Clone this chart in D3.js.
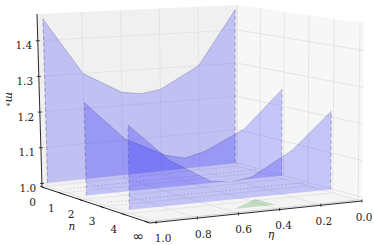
<!DOCTYPE html>
<html><head><meta charset="utf-8">
<script src="https://cdn.jsdelivr.net/npm/d3@7"></script>
<style>html,body{margin:0;padding:0;background:#fff}svg{display:block}</style></head>
<body><svg id="c" width="374" height="245"></svg>
<script>
const etaValues=[1,0.8,0.6,0.5,0.4,0.2,0.01];
const seriesN0=[1.46,1.30,1.238,1.23,1.238,1.30,1.46];
const seriesN2=[1.25,1.144,1.09,1.077,1.09,1.144,1.25];
const seriesN4=[1.218,1.118,1.054,1.047,1.054,1.118,1.218];
const seriesN5=[1,1,1,1.02,1,1,1];
const flatN1=[1,1,1,1,1,1,1];
const flatN3=[1,1,1,1,1,1,1];
const nTicks=[0,1,2,3,4,5];
const nTickLabels=["0","1","2","3","4","∞"];
const etaTicks=[0,0.2,0.4,0.6,0.8,1];
const zTicks=[1,1.1,1.2,1.3,1.4];

const nScale=d3.scaleLinear().domain([0,5.15]).range([0,1]);
const etaScale=d3.scaleLinear().domain([1.03,0]).range([0,1]);
const zScale=d3.scaleLinear().domain([0.99,1.475]).range([0,1]);

const lerp=(a,b,t)=>[a[0]+(b[0]-a[0])*t,a[1]+(b[1]-a[1])*t];
const bilinear=(p00,p10,p11,p01)=>(u,v)=>lerp(lerp(p00,p10,u),lerp(p01,p11,u),v);
const floorMap=bilinear([42,187],[150,223],[362,201],[237,166]);
const ceilMap=bilinear([37,14],[147,29],[364,23],[237,5]);
function P(n,eta,z){
  let u=nScale(n),v=etaScale(eta),t=zScale(z);
  u=u-0.13*(1-0.5*v)*u*(1-u);   // foreshortening along the n axis
  return lerp(floorMap(u,v),ceilMap(u,v),t);
}
const nLo=0,nHi=5.15,eLo=0,eHi=1.03,zLo=0.99,zHi=1.475;
const svg=d3.select("#c");
const line=d3.line();
const poly=pts=>line(pts)+"Z";

svg.append("path").attr("d",poly([P(nLo,eHi,zLo),P(nLo,eLo,zLo),P(nLo,eLo,zHi),P(nLo,eHi,zHi)])).attr("fill","#f0f0f0");
svg.append("path").attr("d",poly([P(nLo,eLo,zLo),P(nHi,eLo,zLo),P(nHi,eLo,zHi),P(nLo,eLo,zHi)])).attr("fill","#f7f7f7");
svg.append("path").attr("d",poly([P(nLo,eHi,zLo),P(nHi,eHi,zLo),P(nHi,eLo,zLo),P(nLo,eLo,zLo)])).attr("fill","#f4f4f4");

const grid=(a,b,c="#e2e2e2")=>svg.append("path").attr("d",line([a,b])).attr("stroke",c).attr("stroke-width",0.9).attr("fill","none");
etaTicks.forEach(e=>{grid(P(nLo,e,zLo),P(nLo,e,zHi));grid(P(nLo,e,zLo),P(nHi,e,zLo));});
nTicks.forEach(n=>{grid(P(n,eLo,zLo),P(n,eLo,zHi));grid(P(n,eLo,zLo),P(n,eHi,zLo),n==5?"#cfcfcf":"#e2e2e2");});
zTicks.forEach(z=>{grid(P(nLo,eHi,z),P(nLo,eLo,z));grid(P(nLo,eLo,z),P(nHi,eLo,z));});

const axis=(a,b)=>svg.append("path").attr("d",line([a,b])).attr("stroke","#111").attr("stroke-width",0.9).attr("fill","none");
axis(P(nLo,eHi,zLo),P(nLo,eHi,zHi));
axis(P(nLo,eHi,zLo),P(nHi,eHi,zLo));
axis(P(nHi,eHi,zLo),P(nHi,eLo,zLo));
const SERIF='"DejaVu Serif"';
const txt=(x,y,s,o={})=>svg.append("text").attr("x",x).attr("y",y).attr("text-anchor","middle").attr("dominant-baseline","central")
  .attr("font-family",o.fam||SERIF).attr("fill","#222")
  .attr("font-size",o.size||10.5).attr("letter-spacing",o.ls||0).attr("font-style",o.it?"italic":"normal").text(s);
zTicks.forEach(z=>{
  const p=P(nLo,eHi,z);
  svg.append("path").attr("d",line([[p[0]-2,p[1]],[p[0]+2,p[1]]])).attr("stroke","#111").attr("stroke-width",0.8);
  txt(p[0]-14,p[1]+4.5,d3.format(".1f")(z));
});
nTicks.forEach((n,i)=>{
  const p=P(n,eHi,zLo);
  svg.append("path").attr("d",line([[p[0]-2,p[1]-1],[p[0]+2,p[1]+1]])).attr("stroke","#111").attr("stroke-width",0.8);
  if(i==5) txt(p[0]-8,p[1]+14.5,nTickLabels[i],{fam:'"DejaVu Sans"',size:14});
  else txt(p[0]-9.5,p[1]+14.5,nTickLabels[i]);
});
etaTicks.forEach(e=>{
  const p=P(nHi,e,zLo);
  svg.append("path").attr("d",line([[p[0],p[1]-1.5],[p[0],p[1]+1.5]])).attr("stroke","#111").attr("stroke-width",0.8);
  txt(p[0]+2+e*5,p[1]+15.5,d3.format(".1f")(e));
});
txt(72,225.5,"n",{it:1,size:10.5});
txt(271,234,"η",{it:1,size:11});
svg.append("g").attr("transform","translate(6,92) rotate(90)").call(g=>{
  const t=g.append("text").attr("font-family",SERIF).attr("fill","#222").attr("font-size",11);
  t.append("tspan").attr("font-style","italic").text("m");
  t.append("tspan").attr("font-size",8).attr("dy",2).text("*");
});

const panel=(n,vals,fill)=>{
  const top=etaValues.map((e,i)=>P(n,e,vals[i]));
  const b0=P(n,etaValues[0],1),b1=P(n,etaValues[6],1);
  svg.append("path").attr("d",poly([b0,...top,b1])).attr("fill",fill);
  svg.append("path").attr("d",line(top)).attr("fill","none").attr("stroke","rgba(50,50,110,0.35)").attr("stroke-width",0.7);
  [[b0,top[0]],[b1,top[6]]].forEach(s=>svg.append("path").attr("d",line(s)).attr("fill","none")
    .attr("stroke","rgba(70,70,130,0.38)").attr("stroke-width",1).attr("stroke-dasharray","4 2.5"));
};
const dotted=(n,vals)=>svg.append("path").attr("d",line(etaValues.map((e,i)=>P(n,e,vals[i]))))
  .attr("fill","none").attr("stroke","rgba(200,80,110,0.6)").attr("stroke-width",0.8).attr("stroke-dasharray","1 2.5");
const blue="rgba(0,0,255,0.2)";
panel(0,seriesN0,blue);
dotted(1,flatN1);
panel(2,seriesN2,blue);
dotted(3,flatN3);
panel(4,seriesN4,blue);
svg.append("path").attr("d",poly(etaValues.map((e,i)=>P(5,e,seriesN5[i])))).attr("fill","rgba(0,128,0,0.2)").attr("stroke","none");
</script></body></html>
